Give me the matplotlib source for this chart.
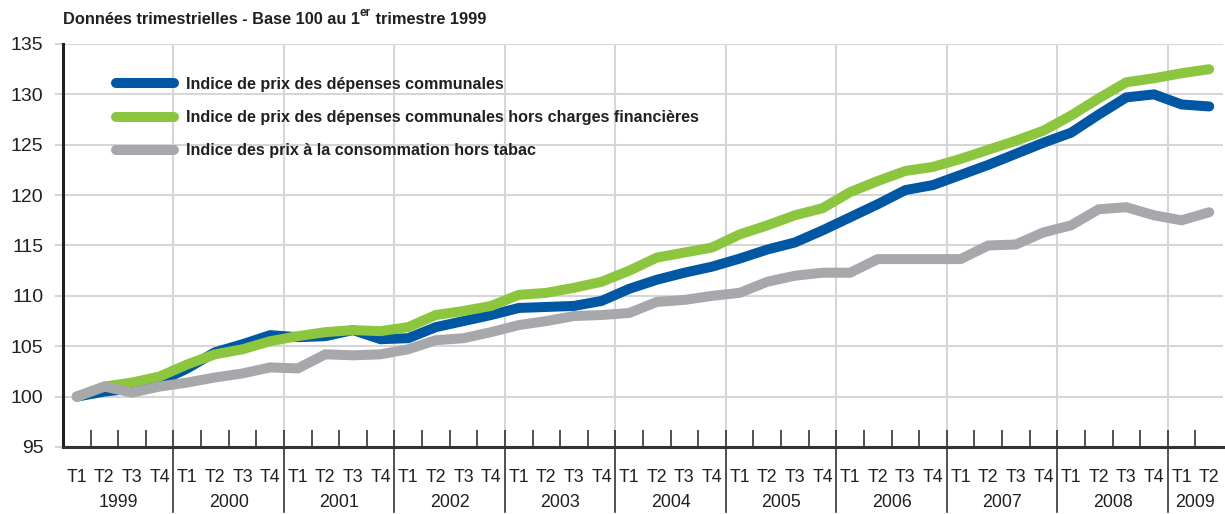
import matplotlib
matplotlib.use("Agg")
import matplotlib.pyplot as plt
import numpy as np

# quarterly indices, base 100 = Q1 1999 (1999 T1 .. 2009 T2)
years = ["1999", "2000", "2001", "2002", "2003", "2004",
         "2005", "2006", "2007", "2008", "2009"]
quarters = ["T1", "T2", "T3", "T4"]

depenses = [100.0, 100.5, 100.8, 101.5, 102.8, 104.4, 105.2, 106.1,
            105.9, 106.0, 106.6, 105.7, 105.8, 106.9, 107.5, 108.1,
            108.8, 108.9, 109.0, 109.5, 110.7, 111.6, 112.3, 112.9,
            113.7, 114.6, 115.3, 116.5, 117.8, 119.1, 120.5, 121.0,
            122.0, 123.0, 124.1, 125.2, 126.2, 128.0, 129.7, 130.0,
            129.0, 128.8]
hors_charges = [100.0, 101.0, 101.4, 102.0, 103.2, 104.2, 104.7, 105.5,
                106.0, 106.4, 106.6, 106.5, 106.9, 108.1, 108.5, 109.0,
                110.1, 110.3, 110.8, 111.4, 112.5, 113.8, 114.3, 114.8,
                116.1, 117.0, 118.0, 118.7, 120.3, 121.4, 122.4, 122.8,
                123.6, 124.5, 125.4, 126.4, 127.9, 129.6, 131.2, 131.6,
                132.1, 132.5]
ipc_hors_tabac = [100.0, 101.0, 100.4, 101.0, 101.4, 101.9, 102.3, 102.9,
                  102.8, 104.2, 104.1, 104.2, 104.7, 105.6, 105.8, 106.4,
                  107.1, 107.5, 108.0, 108.1, 108.3, 109.4, 109.6, 110.0,
                  110.3, 111.4, 112.0, 112.3, 112.3, 113.65, 113.65, 113.65,
                  113.65, 115.0, 115.1, 116.3, 117.0, 118.6, 118.8, 118.0,
                  117.5, 118.3]

labels = ["Indice de prix des dépenses communales",
          "Indice de prix des dépenses communales hors charges financières",
          "Indice des prix à la consommation hors tabac"]
colors = ["#0057a4", "#8cc63f", "#a7a8ab"]

txt = "#231f20"
grid_c = "#d6d6d6"
plt.rcParams["font.family"] = ["Liberation Sans", "DejaVu Sans"]

n = len(depenses)
x = np.arange(n) + 0.5

fig = plt.figure(figsize=(12.25, 5.14), dpi=100)
ax = fig.add_axes([63/1225, 1-447/514, 1160/1225, 403/514])

for y, c, lab in zip([depenses, hors_charges, ipc_hors_tabac], colors, labels):
    ax.plot(x, y, color=c, lw=7.2, solid_capstyle="round",
            solid_joinstyle="miter", label=lab, zorder=3)

ax.set_xlim(0, n)
ax.set_ylim(95, 135)

# grid
ax.set_yticks(np.arange(95, 136, 5))
ax.grid(axis="y", color=grid_c, lw=1.5, zorder=0)
for b in range(4, n, 4):
    ax.axvline(b, color=grid_c, lw=1.5, zorder=0)

ax.tick_params(axis="y", length=6, width=1.5, color=grid_c, pad=8,
               labelsize=14, labelcolor=txt)
for s in ["top", "right"]:
    ax.spines[s].set_visible(False)
ax.spines["left"].set_linewidth(2.2)
ax.spines["left"].set_color(txt)
ax.spines["bottom"].set_linewidth(2.2)
ax.spines["bottom"].set_color("#333333")
ax.spines["bottom"].set_zorder(4)

# quarter ticks pointing inward, labels placed manually
ax.set_xticks(np.arange(1, n))
ax.tick_params(axis="x", direction="in", length=12, width=1.2,
               color="#333333", labelbottom=False)

xt = ax.get_xaxis_transform()
for i in range(n):
    ax.text(x[i], -0.075, quarters[i % 4], transform=xt, ha="center",
            va="center", fontsize=12.8, color=txt)
for k, yr in enumerate(years):
    start = 4 * k
    end = min(start + 4, n)
    ax.text((start + end) / 2, -0.137, yr, transform=xt, ha="center",
            va="center", fontsize=12.8, color=txt)
for b in range(4, n, 4):
    ax.plot([b, b], [0, -0.162], transform=xt, color="#333333", lw=1.2,
            clip_on=False)

leg = ax.legend(loc="upper left", bbox_to_anchor=(116/1225, 1-77/514),
                bbox_transform=fig.transFigure, frameon=False,
                handlelength=3.6, handletextpad=0.75, labelspacing=1.13,
                borderpad=0, borderaxespad=0,
                prop={"weight": "bold", "size": 11.6})
for t in leg.get_texts():
    t.set_color(txt)

t1 = fig.text(63/1225, 1-20/514, "Données trimestrielles - Base 100 au 1",
              fontsize=11.8, fontweight="bold", color=txt, va="center")
t2 = ax.annotate("er", xy=(1, 0.55), xycoords=t1, fontsize=8.5,
                 fontweight="bold", color=txt, va="bottom", ha="left")
ax.annotate(" trimestre 1999", xy=(1, 0), xycoords=(t2, t1), fontsize=11.8,
            fontweight="bold", color=txt, va="bottom", ha="left")

fig.savefig("out.png", dpi=100)
